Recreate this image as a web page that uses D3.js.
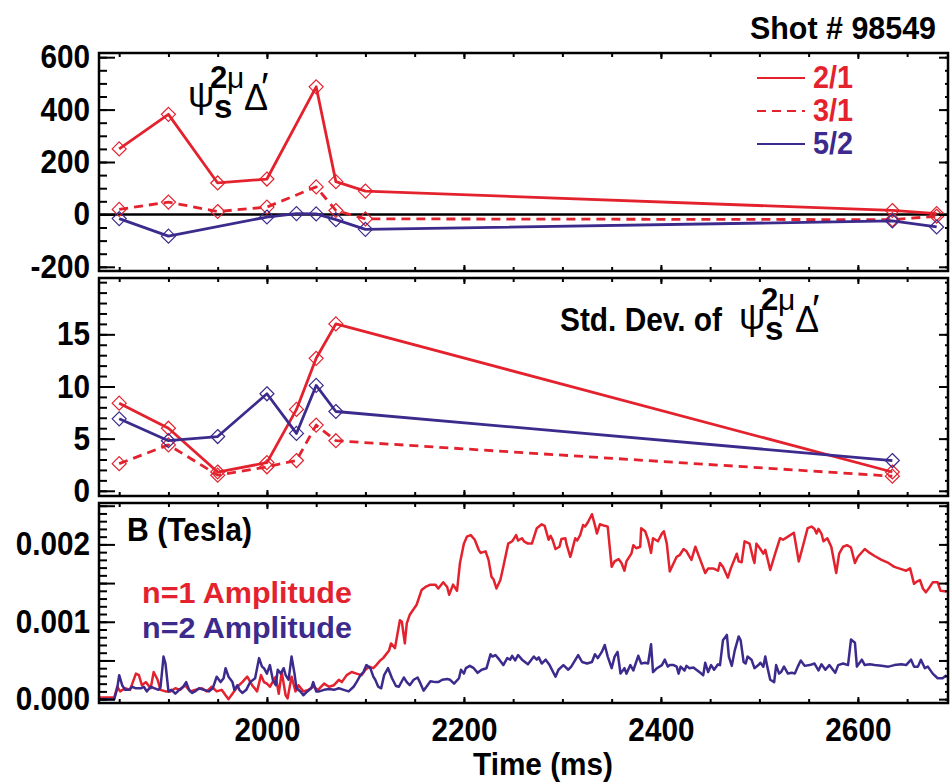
<!DOCTYPE html>
<html>
<head>
<meta charset="utf-8">
<script src="https://cdn.jsdelivr.net/npm/d3@7"></script>
<style>
  body { margin: 0; background: #fff; }
  text { font-family: "Liberation Sans", Arial, Helvetica, sans-serif; font-weight: bold; }
</style>
</head>
<body>
<svg id="chart" width="950" height="784"></svg>
<script>
const RED = "#e3222e";
const BLUE = "#3c2a8c";

// ---- tick labels ----
const timeTicks = [2000, 2200, 2400, 2600];
const deltaTicks = [-200, 0, 200, 400, 600];
const sdTicks = [0, 5, 10, 15];
const bTicks = [0.000, 0.001, 0.002];

// ---- legend ----
const modes = ["2/1", "3/1", "5/2"];

// ---- psi_s^{2mu} Delta' for each mode: [time ms, value] ----
const delta21 = [[1850, 250], [1900, 382], [1950, 120], [2000, 135], [2050, 487], [2070, 125], [2100, 89], [2635, 15], [2680, 3]];
const delta31 = [[1850, 19], [1900, 47], [1950, 11], [2000, 28], [2050, 105], [2070, 15], [2100, -17], [2635, -20], [2680, -7]];
const delta52 = [[1850, -16], [1900, -83], [2000, -10], [2030, 3], [2050, 2], [2070, -20], [2100, -57], [2635, -25], [2680, -48]];

// ---- standard deviation of psi_s^{2mu} Delta' ----
const sd21 = [[1850, 8.4], [1900, 6.0], [1950, 1.8], [2000, 2.7], [2030, 7.8], [2050, 12.7], [2070, 16.0], [2635, 1.8]];
const sd31 = [[1850, 2.6], [1900, 4.4], [1950, 1.5], [2000, 2.3], [2030, 2.9], [2050, 6.3], [2070, 4.8], [2635, 1.4]];
const sd52 = [[1850, 6.9], [1900, 4.8], [1950, 5.2], [2000, 9.3], [2030, 5.5], [2050, 10.1], [2070, 7.6], [2635, 2.9]];

// ---- magnetic amplitudes: [time ms, gauss] (1 G = 1e-4 T) ----
const n1Gauss = [[1830,0.2],[1845,0.2],[1848,1.6],[1851,1.0],[1856,1.4],[1861,1.2],[1867,3.3],[1870,3.1],[1873,1.8],[1877,2.2],[1882,1.4],[1885,3.5],[1889,2.5],[1892,1.2],[1897,1.0],[1902,1.0],[1907,1.4],[1912,1.2],[1917,1.8],[1922,1.0],[1927,1.2],[1934,1.4],[1939,1.0],[1944,1.6],[1949,1.0],[1954,1.2],[1958,0.5],[1961,0.0],[1965,0.7],[1970,1.6],[1975,2.2],[1980,2.9],[1985,1.8],[1990,1.0],[1994,3.1],[1997,2.2],[2000,2.0],[2003,1.6],[2009,2.9],[2012,0.7],[2015,3.5],[2019,0.5],[2021,0.1],[2025,2.9],[2029,1.0],[2032,1.8],[2037,1.0],[2042,1.2],[2047,1.6],[2052,1.2],[2058,2.0],[2063,1.6],[2068,1.8],[2073,2.5],[2076,2.2],[2081,3.1],[2086,3.5],[2091,3.3],[2096,3.1],[2100,3.8],[2104,4.2],[2108,4.0],[2111,4.4],[2115,5.0],[2118,5.3],[2124,6.3],[2126,7.2],[2130,6.6],[2135,10.2],[2137,10.0],[2140,7.2],[2142,9.8],[2145,10.9],[2152,12.2],[2157,14.1],[2161,14.5],[2166,14.8],[2171,14.8],[2174,14.3],[2179,15.1],[2183,14.5],[2185,13.5],[2189,14.8],[2193,14.0],[2196,17.6],[2200,20.1],[2203,21.0],[2207,21.2],[2211,20.6],[2215,19.3],[2217,18.9],[2222,19.1],[2225,18.0],[2228,15.8],[2230,15.5],[2233,14.3],[2237,15.4],[2240,17.1],[2245,20.1],[2249,20.4],[2253,21.2],[2255,20.5],[2259,20.8],[2261,20.4],[2265,20.1],[2269,20.1],[2274,22.1],[2279,22.6],[2282,22.4],[2286,20.6],[2288,21.1],[2290,20.6],[2293,19.4],[2297,19.7],[2299,20.7],[2303,20.8],[2304,20.1],[2308,18.4],[2309,18.8],[2313,20.8],[2315,20.5],[2318,21.2],[2321,22.5],[2323,22.3],[2326,22.9],[2330,23.9],[2333,22.5],[2335,21.4],[2338,22.6],[2343,22.4],[2346,22.3],[2350,17.1],[2353,17.8],[2357,18.1],[2360,17.6],[2363,16.6],[2365,17.8],[2370,18.8],[2372,19.9],[2375,19.5],[2379,19.7],[2380,22.1],[2384,21.7],[2387,20.6],[2390,18.9],[2392,20.8],[2397,20.4],[2401,21.4],[2403,21.7],[2406,20.1],[2409,16.5],[2413,17.6],[2416,18.4],[2419,18.6],[2423,19.4],[2426,19.1],[2431,18.0],[2435,19.7],[2440,18.0],[2445,16.3],[2448,16.9],[2453,16.9],[2458,16.6],[2460,17.6],[2463,17.1],[2468,15.7],[2471,16.9],[2477,18.8],[2479,17.8],[2482,17.7],[2485,20.4],[2490,20.1],[2494,18.0],[2495,17.6],[2497,20.1],[2501,19.4],[2504,18.8],[2506,19.3],[2511,16.7],[2516,18.8],[2521,20.8],[2524,20.6],[2529,21.0],[2535,21.5],[2540,17.8],[2544,19.7],[2549,22.1],[2553,22.3],[2556,22.0],[2558,21.4],[2560,22.0],[2563,21.4],[2565,20.4],[2569,20.8],[2573,19.7],[2578,16.3],[2581,18.8],[2585,19.7],[2589,19.9],[2593,19.6],[2597,17.6],[2600,18.4],[2607,19.4],[2612,18.9],[2617,18.5],[2624,18.0],[2631,17.6],[2637,17.1],[2644,16.8],[2649,16.6],[2653,16.9],[2657,14.9],[2660,15.2],[2663,15.4],[2666,14.3],[2669,13.8],[2673,14.5],[2676,15.1],[2681,15.1],[2684,14.0],[2690,13.9]];

const n2Gauss = [[1830,0.0],[1845,0.0],[1848,1.4],[1850,3.1],[1853,1.8],[1856,1.2],[1860,1.2],[1863,1.6],[1867,1.4],[1872,1.4],[1875,1.6],[1878,1.0],[1882,1.6],[1886,1.4],[1890,1.2],[1892,1.6],[1895,5.5],[1897,4.6],[1900,1.0],[1903,1.2],[1907,0.7],[1911,1.2],[1915,1.6],[1918,2.2],[1921,1.2],[1924,0.8],[1927,1.0],[1931,1.4],[1936,1.2],[1941,1.0],[1945,1.4],[1949,2.9],[1953,2.2],[1956,2.7],[1958,4.0],[1961,2.9],[1965,2.2],[1967,1.2],[1970,1.8],[1972,1.2],[1975,0.8],[1979,1.2],[1983,2.2],[1988,2.7],[1992,5.3],[1995,4.2],[1997,4.0],[2000,3.3],[2003,4.4],[2006,2.5],[2009,1.8],[2011,3.8],[2014,3.3],[2017,4.0],[2019,3.1],[2022,2.5],[2025,5.5],[2028,3.3],[2030,1.4],[2034,1.0],[2037,0.5],[2041,1.0],[2045,1.4],[2047,2.2],[2050,1.0],[2053,1.0],[2058,1.2],[2063,1.3],[2068,1.2],[2073,1.4],[2078,1.2],[2083,1.0],[2088,1.6],[2091,2.2],[2095,3.1],[2098,3.5],[2101,4.4],[2105,4.0],[2108,2.9],[2110,2.5],[2113,1.6],[2116,1.4],[2119,3.1],[2123,4.0],[2127,2.7],[2131,1.7],[2134,1.6],[2139,2.8],[2142,2.2],[2145,1.8],[2149,2.5],[2153,2.8],[2156,2.0],[2159,1.1],[2162,1.6],[2166,2.3],[2171,2.2],[2174,2.2],[2178,2.5],[2183,2.6],[2186,2.5],[2190,2.0],[2195,2.7],[2197,3.8],[2200,3.3],[2202,4.0],[2206,4.3],[2210,4.0],[2214,3.4],[2218,3.8],[2223,4.0],[2227,5.8],[2229,5.5],[2232,5.7],[2236,5.1],[2240,4.4],[2244,5.3],[2247,5.1],[2249,5.6],[2252,5.0],[2255,5.7],[2259,5.1],[2265,4.5],[2271,5.5],[2274,5.1],[2276,5.4],[2279,4.6],[2283,5.1],[2287,4.4],[2293,2.9],[2296,3.8],[2301,4.4],[2306,3.8],[2309,4.2],[2316,5.7],[2320,4.8],[2325,4.6],[2330,4.8],[2333,5.8],[2336,5.3],[2340,6.1],[2343,7.0],[2346,5.5],[2350,4.0],[2353,5.5],[2356,6.1],[2359,3.3],[2363,4.0],[2365,3.3],[2369,4.4],[2372,3.7],[2377,5.6],[2380,4.6],[2384,4.7],[2387,4.6],[2390,7.1],[2392,3.5],[2396,4.0],[2401,4.4],[2404,5.1],[2407,4.2],[2409,4.4],[2413,4.4],[2416,4.2],[2418,3.3],[2420,4.2],[2424,3.7],[2426,4.3],[2429,4.0],[2433,4.1],[2436,3.8],[2440,3.4],[2443,3.1],[2445,4.7],[2448,3.5],[2451,4.4],[2454,3.8],[2458,4.5],[2460,4.4],[2463,7.6],[2467,8.3],[2469,5.5],[2472,4.3],[2475,6.3],[2479,8.1],[2481,7.6],[2484,4.8],[2486,4.6],[2488,5.5],[2492,5.1],[2495,4.0],[2499,4.4],[2501,4.7],[2504,4.2],[2506,5.5],[2508,4.2],[2511,2.5],[2515,2.2],[2517,4.4],[2520,3.3],[2522,3.5],[2525,4.2],[2529,3.3],[2533,3.4],[2536,3.3],[2539,4.2],[2542,5.0],[2546,4.3],[2551,4.4],[2556,4.6],[2560,3.7],[2563,4.5],[2567,3.8],[2571,4.4],[2577,3.4],[2580,4.4],[2585,4.6],[2590,4.4],[2593,7.7],[2597,7.3],[2599,4.2],[2604,5.1],[2607,4.4],[2612,4.5],[2617,4.4],[2624,4.3],[2631,4.2],[2637,4.4],[2644,4.5],[2649,4.4],[2654,5.1],[2657,4.2],[2661,4.2],[2664,5.1],[2668,4.0],[2671,4.2],[2676,3.3],[2681,2.7],[2686,2.7],[2690,3.1]];

// ---------------------------------------------------------------
const svg = d3.select("#chart");
const X0 = 99, X1 = 948;
const x = d3.scaleLinear().domain([1829.5, 2691.5]).range([X0, X1]);

// integer labels with a plain hyphen for negatives
const intFmt = d => String(Math.round(d));

const panels = {
  delta: { y: d3.scaleLinear().domain([-216, 616]).range([271, 53]),
           major: deltaTicks, minor: d3.range(-200, 601, 50), labels: deltaTicks, fmt: intFmt },
  sd:    { y: d3.scaleLinear().domain([-0.5, 20.4]).range([496, 278]),
           major: sdTicks, minor: d3.range(0, 21, 1), labels: sdTicks, fmt: intFmt },
  b:     { y: d3.scaleLinear().domain([-0.00005, 0.002535]).range([703, 503]),
           major: d3.range(0, 6).map(i => i * 0.0005), minor: d3.range(0, 26).map(i => i * 0.0001),
           labels: bTicks, fmt: d3.format(".3f") }
};

// squeeze text horizontally (narrow bold face)
function squeeze(sel, factor) {
  sel.each(function () {
    const w = this.getComputedTextLength();
    d3.select(this).attr("textLength", w * factor).attr("lengthAdjust", "spacingAndGlyphs");
  });
}
function fitWidth(sel, width) {
  sel.attr("textLength", width).attr("lengthAdjust", "spacingAndGlyphs");
}

const diamond = "M0,-7L7,0L0,7L-7,0Z";

function drawSeries(g, yScale, data, color, dash, markers, width) {
  const line = d3.line().x(d => x(d[0])).y(d => yScale(d[1]));
  g.append("path").datum(data)
    .attr("d", line).attr("fill", "none")
    .attr("stroke", color).attr("stroke-width", width)
    .attr("stroke-linejoin", "round")
    .attr("stroke-dasharray", dash);
  if (markers) {
    g.selectAll(null).data(data).enter().append("path")
      .attr("d", diamond)
      .attr("transform", d => `translate(${x(d[0])},${yScale(d[1])})`)
      .attr("fill", "none").attr("stroke", color).attr("stroke-width", 1.2);
  }
}

function drawFrame(p, showTimeLabels) {
  const y = p.y;
  const [yb, yt] = y.range();
  const g = svg.append("g");
  // left axis
  g.append("g").attr("transform", `translate(${X0},0)`)
    .call(d3.axisLeft(y).tickValues(p.minor).tickSizeInner(-8).tickSizeOuter(0).tickFormat(""));
  g.append("g").attr("transform", `translate(${X0},0)`)
    .call(d3.axisLeft(y).tickValues(p.major).tickSizeInner(-16).tickSizeOuter(0)
      .tickPadding(9).tickFormat(d => p.labels.some(l => Math.abs(l - d) < 1e-9) ? p.fmt(d) : ""));
  // right axis
  g.append("g").attr("transform", `translate(${X1},0)`)
    .call(d3.axisRight(y).tickValues(p.minor).tickSizeInner(-3).tickSizeOuter(0).tickFormat(""));
  g.append("g").attr("transform", `translate(${X1},0)`)
    .call(d3.axisRight(y).tickValues(p.major).tickSizeInner(-9).tickSizeOuter(0).tickFormat(""));
  // top and bottom time ticks
  const minorT = d3.range(1850, 2691, 50);
  g.append("g").attr("transform", `translate(0,${yt})`)
    .call(d3.axisTop(x).tickValues(minorT).tickSizeInner(-4).tickSizeOuter(0).tickFormat(""));
  g.append("g").attr("transform", `translate(0,${yt})`)
    .call(d3.axisTop(x).tickValues(timeTicks).tickSizeInner(-6).tickSizeOuter(0).tickFormat(""));
  g.append("g").attr("transform", `translate(0,${yb})`)
    .call(d3.axisBottom(x).tickValues(minorT).tickSizeInner(-4).tickSizeOuter(0).tickFormat(""));
  g.append("g").attr("transform", `translate(0,${yb})`)
    .call(d3.axisBottom(x).tickValues(timeTicks).tickSizeInner(-6).tickSizeOuter(0).tickPadding(15)
      .tickFormat(showTimeLabels ? d3.format("d") : ""));
  g.selectAll(".domain").remove();
  g.selectAll(".tick line").attr("stroke", "#000").attr("stroke-width", 2);
  g.selectAll(".tick text").attr("fill", "#000").style("font-size", "33px")
    .style("font-family", "'Liberation Sans', Arial, sans-serif").style("font-weight", "bold");
  squeeze(g.selectAll(".tick text").filter(function () { return this.textContent !== ""; }), 0.9);
  g.append("rect").attr("x", X0).attr("y", yt).attr("width", X1 - X0).attr("height", yb - yt)
    .attr("fill", "none").attr("stroke", "#000").attr("stroke-width", 2.5);
}

// psi_s^{2mu} Delta' label, one text element with positioned pieces
function psiLabel(x0, y0) {
  const t = svg.append("text");
  const piece = (str, dx, dy, size, weight) =>
    t.append("tspan").attr("x", x0 + dx).attr("y", y0 + dy)
      .style("font-size", size + "px").style("font-weight", weight).text(str);
  piece("ψ", -1, 0, 37, "normal");
  piece("s", 25, 11, 33, "bold");
  piece("2", 21, -19, 31, "bold");
  piece("μ", 38, -19, 30, "normal");
  piece("Δ", 55, 3, 36, "normal");
  piece("′", 72, -6, 40, "normal");
}

// ---- top panel ----
{
  const p = panels.delta;
  const g = svg.append("g");
  g.append("line").attr("x1", X0).attr("x2", X1).attr("y1", p.y(0)).attr("y2", p.y(0))
    .attr("stroke", "#000").attr("stroke-width", 2.5);
  drawSeries(g, p.y, delta21, RED, null, true, 2.8);
  drawSeries(g, p.y, delta31, RED, "9,6", true, 2.8);
  drawSeries(g, p.y, delta52, BLUE, null, true, 2.8);
  drawFrame(p, false);
  psiLabel(189, 107);

  const colors = [RED, RED, BLUE];
  const dashes = [null, "9,6", null];
  const lg = svg.append("g");
  modes.forEach((m, i) => {
    const yy = 78 + i * 33;
    lg.append("line").attr("x1", 757).attr("x2", 805).attr("y1", yy).attr("y2", yy)
      .attr("stroke", colors[i]).attr("stroke-width", 2).attr("stroke-dasharray", dashes[i]);
    lg.append("text").attr("x", 813).attr("y", yy + 10).attr("fill", colors[i])
      .style("font-size", "32px").text(m).call(fitWidth, 40);
  });
}

// ---- middle panel ----
{
  const p = panels.sd;
  const g = svg.append("g");
  drawSeries(g, p.y, sd21, RED, null, true, 2.8);
  drawSeries(g, p.y, sd31, RED, "9,6", true, 2.8);
  drawSeries(g, p.y, sd52, BLUE, null, true, 2.8);
  drawFrame(p, false);
  svg.append("text").attr("x", 560).attr("y", 331).style("font-size", "33px")
    .text("Std. Dev. of").call(fitWidth, 162);
  psiLabel(740, 329);
}

// ---- bottom panel ----
{
  const p = panels.b;
  const g = svg.append("g");
  const toTesla = arr => arr.map(d => [d[0], d[1] * 1e-4]);
  drawSeries(g, p.y, toTesla(n1Gauss), RED, null, false, 2.5);
  drawSeries(g, p.y, toTesla(n2Gauss), BLUE, null, false, 2.5);
  drawFrame(p, true);
  svg.append("text").attr("x", 127).attr("y", 541).style("font-size", "33px")
    .text("B (Tesla)").call(fitWidth, 125);
  svg.append("text").attr("x", 142).attr("y", 603).attr("fill", RED).style("font-size", "30px")
    .text("n=1 Amplitude").call(fitWidth, 210);
  svg.append("text").attr("x", 142).attr("y", 638).attr("fill", BLUE).style("font-size", "30px")
    .text("n=2 Amplitude").call(fitWidth, 210);
}

// ---- titles ----
svg.append("text").attr("x", 750).attr("y", 39).style("font-size", "31px")
  .text("Shot # 98549").call(fitWidth, 186);
svg.append("text").attr("x", 473).attr("y", 775).style("font-size", "32px")
  .text("Time (ms)").call(fitWidth, 140);
</script>
</body>
</html>
